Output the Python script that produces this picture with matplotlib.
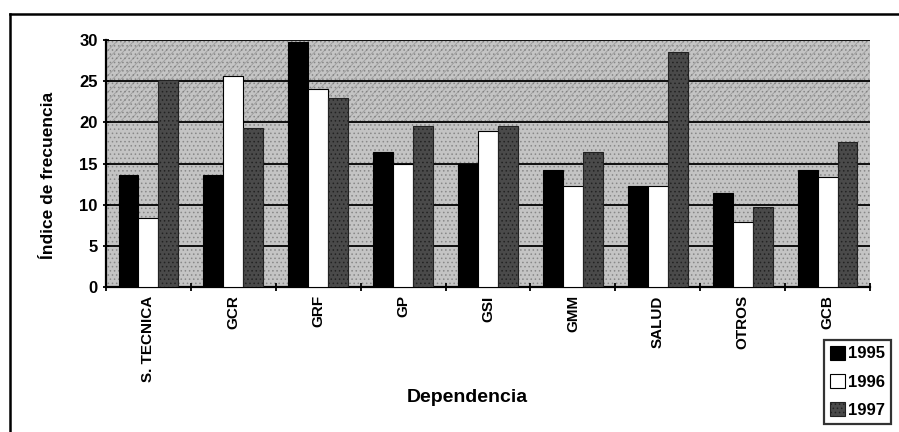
import matplotlib
matplotlib.use("Agg")
import matplotlib.pyplot as plt
import numpy as np
from matplotlib.patches import Rectangle
from matplotlib.lines import Line2D

plt.rcParams['font.family'] = ['Liberation Sans', 'DejaVu Sans']
plt.rcParams['hatch.linewidth'] = 0.6

categories = ["S. TECNICA", "GCR", "GRF", "GP", "GSI", "GMM", "SALUD", "OTROS", "GCB"]
v1995 = [13.6, 13.6, 29.7, 16.4, 15.0, 14.2, 12.3, 11.4, 14.2]
v1996 = [8.4, 25.6, 24.0, 15.0, 18.9, 12.3, 12.3, 7.9, 13.3]
v1997 = [25.1, 19.3, 22.9, 19.5, 19.5, 16.4, 28.5, 9.7, 17.6]
years = ["1995", "1996", "1997"]
yticks = [0, 5, 10, 15, 20, 25, 30]

fig = plt.figure(figsize=(8.99, 4.32), dpi=100)
# outer frame (left and top edges visible)
fx = 10 / 899
fy = 1 - 14 / 432
fig.add_artist(Line2D([fx, fx], [0, fy], transform=fig.transFigure, color='black', linewidth=1.8))
fig.add_artist(Line2D([fx, 1], [fy, fy], transform=fig.transFigure, color='black', linewidth=1.8))

ax = fig.add_axes([106/899, (432-287)/432, (870-106)/899, (287-40)/432])
ax.set_facecolor('#c4c4c4')
ax.add_patch(Rectangle((0, 0), 1, 1, transform=ax.transAxes, facecolor='none',
                       edgecolor='#888888', hatch='....', linewidth=0, zorder=0))
ax.add_patch(Rectangle((0, 20/30), 1, 10/30, transform=ax.transAxes, facecolor='none',
                       edgecolor='#777777', hatch='////', linewidth=0, zorder=0, alpha=0.5))

x = np.arange(len(categories))
w = 0.235
series = [v1995, v1996, v1997]
styles = [dict(color='black', edgecolor='black'),
          dict(color='white', edgecolor='black'),
          dict(facecolor='#4a4a4a', edgecolor='#222222', hatch='....')]
for i, (vals, st) in enumerate(zip(series, styles)):
    ax.bar(x + (i - 1) * w, vals, w, label=years[i], linewidth=0.8, zorder=3, **st)

ax.set_ylim(0, 30)
ax.set_xlim(-0.5, len(categories) - 0.5)
ax.set_yticks(yticks)
ax.set_yticklabels([str(t) for t in yticks], fontsize=12, fontweight='bold')
ax.yaxis.grid(True, color='black', linewidth=1.3, zorder=1)
ax.set_axisbelow(True)

ax.set_xticks(np.arange(len(categories) + 1) - 0.5)
ax.set_xticklabels([])
ax.set_xticks(x, minor=True)
ax.set_xticklabels(categories, minor=True, rotation=90, fontsize=11, fontweight='bold')
ax.tick_params(axis='x', which='minor', length=0, pad=6)
ax.tick_params(axis='x', which='major', length=6, width=1.3, direction='inout')
ax.tick_params(axis='y', length=5, width=1.3, direction='inout')

for s in ['top', 'right']:
    ax.spines[s].set_visible(False)
ax.spines['left'].set_linewidth(1.6)
ax.spines['bottom'].set_linewidth(1.6)

ax.set_ylabel("Índice de frecuencia", fontsize=12.5, fontweight='bold')
ax.yaxis.set_label_coords(-0.066, 0.45)
fig.text(467/899, 1 - 398/432, "Dependencia", ha='center', va='center', fontsize=14, fontweight='bold')

leg = fig.legend(loc='lower right', bbox_to_anchor=(1.0, 0.0), fontsize=12, frameon=True,
                 fancybox=False, edgecolor='black', handlelength=0.9, handleheight=0.9,
                 handletextpad=0.2, borderpad=0.35, labelspacing=0.75)
leg.get_frame().set_linewidth(1.6)
for t in leg.get_texts():
    t.set_fontweight('bold')

fig.savefig("out.png", dpi=100)
